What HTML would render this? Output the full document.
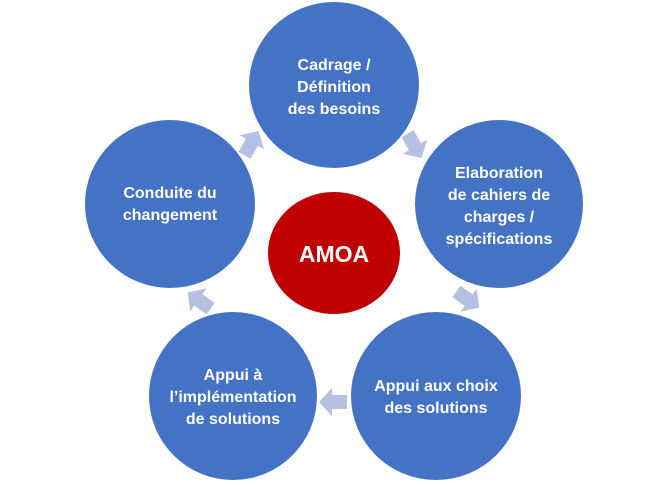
<!DOCTYPE html>
<html><head><meta charset="utf-8"><style>
body{margin:0;background:#fff;width:663px;height:480px;overflow:hidden}
svg text{font-family:"Liberation Sans Narrow","Liberation Sans",sans-serif;font-weight:bold;fill:#fff;text-anchor:middle}
</style></head><body>
<svg width="663" height="480" viewBox="0 0 663 480">
<defs><polygon id="arr" points="-13,-7 2,-7 2,-14 15,0 2,14 2,7 -13,7" fill="#b4c1e0"/></defs>
<g>
<use href="#arr" transform="translate(414,145) rotate(60)"/>
<use href="#arr" transform="translate(467,299) rotate(35)"/>
<use href="#arr" transform="translate(334,402) rotate(180)"/>
<use href="#arr" transform="translate(200,301) rotate(-145)"/>
<use href="#arr" transform="translate(251,144) rotate(-60)"/>
</g>
<g><ellipse cx="334" cy="85" rx="85" ry="83" fill="#4472c4"/>
<text x="334" y="70" font-size="16">Cadrage /</text><text x="334" y="92" font-size="16">Définition</text><text x="334" y="114" font-size="16">des besoins</text></g>
<g><ellipse cx="499" cy="204" rx="84" ry="84" fill="#4472c4"/>
<text x="499" y="178" font-size="16">Elaboration</text><text x="499" y="200" font-size="16">de cahiers de</text><text x="499" y="222" font-size="16">charges /</text><text x="499" y="244" font-size="16">spécifications</text></g>
<g><ellipse cx="436" cy="396" rx="85" ry="84" fill="#4472c4"/>
<text x="436" y="391" font-size="16">Appui aux choix</text><text x="436" y="413" font-size="16">des solutions</text></g>
<g><ellipse cx="233" cy="396" rx="84" ry="84" fill="#4472c4"/>
<text x="233" y="380" font-size="16">Appui à</text><text x="233" y="402" font-size="16">l’implémentation</text><text x="233" y="424" font-size="16">de solutions</text></g>
<g><ellipse cx="170" cy="204" rx="85" ry="84" fill="#4472c4"/>
<text x="170" y="198" font-size="16">Conduite du</text><text x="170" y="220" font-size="16">changement</text></g>
<g><ellipse cx="334" cy="253" rx="66" ry="61" fill="#c00000"/>
<text x="334" y="262" font-size="23">AMOA</text></g>
</svg>
</body></html>
